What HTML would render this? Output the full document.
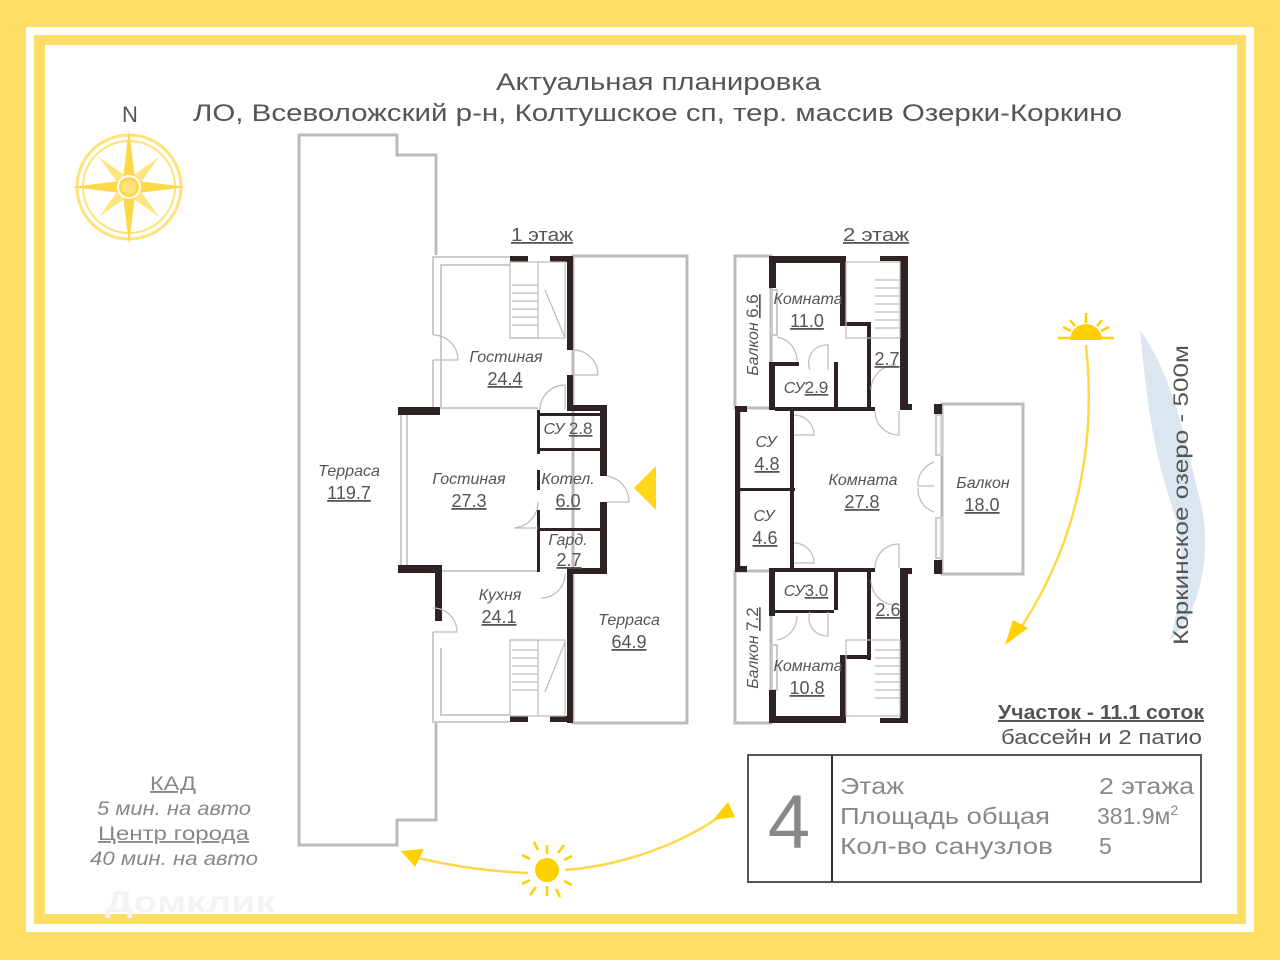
<!DOCTYPE html>
<html><head><meta charset="utf-8"><style>
html,body{margin:0;padding:0;width:1280px;height:960px;overflow:hidden;background:#FFDE66}
svg{display:block}
text{font-family:"Liberation Sans",sans-serif}
.it{font-style:italic;font-size:16px}
.num{font-size:18px;text-decoration:underline}
</style></head><body>
<svg width="1280" height="960" viewBox="0 0 1280 960" xmlns="http://www.w3.org/2000/svg" fill="#555">
<rect x="0" y="0" width="1280" height="960" fill="#FFDE66"/>
<rect x="30" y="31" width="1220" height="897" fill="none" stroke="#fff" stroke-width="8"/>
<rect x="45" y="45" width="1192" height="869" fill="#fff"/>

<text x="496" y="90" font-size="24" fill="#555" textLength="325" lengthAdjust="spacingAndGlyphs">Актуальная планировка</text>
<text x="193" y="121" font-size="24" fill="#555" textLength="929" lengthAdjust="spacingAndGlyphs">ЛО, Всеволожский р-н, Колтушское сп, тер. массив Озерки-Коркино</text>
<text x="130" y="122" font-size="22" text-anchor="middle" fill="#555">N</text>

<g transform="translate(129,187)">
<circle r="52" fill="none" stroke="#FFE27A" stroke-width="3"/>
<circle r="46" fill="none" stroke="#FFE27A" stroke-width="2"/>
<g fill="#FFD84A">
<polygon points="0,-58 7,0 0,58 -7,0"/>
<polygon points="-58,0 0,-7 58,0 0,7"/>
<polygon points="-30,-30 5,-5 30,30 -5,5" opacity="0.7"/>
<polygon points="30,-30 5,5 -30,30 -5,-5" opacity="0.7"/>
</g>
<circle r="11" fill="#FFD84A" stroke="#fff" stroke-width="2"/>
<circle r="7" fill="#FFE27A"/>
</g>

<text x="542" y="241" font-size="18" text-anchor="middle" text-decoration="underline" textLength="62" lengthAdjust="spacingAndGlyphs">1 этаж</text>
<text x="876" y="241" font-size="18" text-anchor="middle" text-decoration="underline" textLength="66" lengthAdjust="spacingAndGlyphs">2 этаж</text>

<g fill="none" stroke="#bbb" stroke-width="3">
<polyline points="436,255 436,155 397,155 397,135 299,135 299,845 397,845 397,820 436,820 436,722"/>
<rect x="573" y="256" width="114" height="467"/>
</g>
<g fill="none" stroke="#ccc" stroke-width="2">
<polyline points="510,257 433,257 433,335"/>
<polyline points="441,408 441,265 510,265"/>
<line x1="433" y1="360" x2="433" y2="408"/>
<rect x="401" y="412" width="6" height="155"/>
<polyline points="433,632 433,722 510,722"/>
<polyline points="441,572 441,620"/>
<polyline points="441,648 441,715 510,715"/>
<line x1="440" y1="408" x2="538" y2="408"/>
<line x1="440" y1="571" x2="538" y2="571"/>
</g>
<g fill="#2e2222">
<rect x="510" y="256" width="18" height="6"/>
<rect x="550" y="256" width="22" height="6"/>
<rect x="567" y="256" width="6" height="94"/>
<rect x="567" y="375" width="6" height="33"/>
<rect x="567" y="405" width="40" height="6"/>
<rect x="600" y="405" width="7" height="71"/>
<rect x="600" y="502" width="7" height="72"/>
<rect x="567" y="568" width="40" height="6"/>
<rect x="567" y="568" width="6" height="155"/>
<rect x="550" y="716" width="22" height="6"/>
<rect x="510" y="716" width="18" height="6"/>
<rect x="398" y="407" width="42" height="8"/>
<rect x="398" y="565" width="42" height="8"/>
<rect x="435" y="565" width="7" height="56"/>
<rect x="538" y="413" width="62" height="3"/>
<rect x="538" y="448" width="62" height="3"/>
<rect x="538" y="528" width="62" height="3"/>
<rect x="537" y="410" width="3" height="44"/>
<rect x="537" y="470" width="3" height="20"/>
<rect x="537" y="510" width="3" height="62"/>
</g>
<g fill="none" stroke="#bbb" stroke-width="1.2">
<rect x="510" y="262" width="55" height="76"/>
<polyline points="510,338 538,338 538,262"/>
<path d="M512,285h26M512,293h26M512,301h26M512,309h26M512,317h26M512,325h26"/>
<polyline points="545,290 565,338"/>
<rect x="510" y="640" width="55" height="76"/>
<polyline points="510,640 538,640 538,716"/>
<path d="M512,650h26M512,658h26M512,666h26M512,674h26M512,682h26M512,690h26"/>
<polyline points="565,642 545,692"/>
<path d="M433,335 a25,25 0 0 1 25,25 h-25" />
<path d="M573,350 a25,25 0 0 1 25,25 h-25" />
<path d="M540,410 a25,25 0 0 1 25,-25 v25" />
<path d="M607,476 a26,26 0 0 1 22,26 h-22" />
<path d="M538,502 a26,26 0 0 1 -24,26 h24"/>
<path d="M565,574 a24,24 0 0 1 -24,24" />
<path d="M433,608 a24,24 0 0 1 24,24 h-24" />
</g>
<polygon points="656,466 656,510 634,488" fill="#FFD000" opacity="0.9"/>
<text x="506" y="362" class="it" text-anchor="middle">Гостиная</text>
<text x="505" y="385" class="num" text-anchor="middle">24.4</text>
<text x="469" y="484" class="it" text-anchor="middle">Гостиная</text>
<text x="469" y="507" class="num" text-anchor="middle">27.3</text>
<text x="568" y="434" font-size="16" text-anchor="middle"><tspan font-style="italic">СУ</tspan> <tspan text-decoration="underline" font-size="17">2.8</tspan></text>
<text x="568" y="484" class="it" text-anchor="middle">Котел.</text>
<text x="568" y="507" class="num" text-anchor="middle">6.0</text>
<text x="568" y="545" class="it" text-anchor="middle">Гард.</text>
<text x="569" y="566" class="num" text-anchor="middle">2.7</text>
<text x="500" y="600" class="it" text-anchor="middle">Кухня</text>
<text x="499" y="623" class="num" text-anchor="middle">24.1</text>
<text x="629" y="625" class="it" text-anchor="middle">Терраса</text>
<text x="629" y="648" class="num" text-anchor="middle">64.9</text>
<text x="349" y="476" class="it" text-anchor="middle">Терраса</text>
<text x="349" y="499" class="num" text-anchor="middle">119.7</text>

<g fill="none" stroke="#bbb" stroke-width="3">
<rect x="735" y="256" width="36" height="152"/>
<rect x="735" y="571" width="36" height="152"/>
<rect x="942" y="404" width="81" height="170"/>
</g>
<g fill="none" stroke="#ccc" stroke-width="2">
<rect x="772" y="290" width="5" height="45"/>
<rect x="772" y="645" width="5" height="45"/>
<rect x="936" y="415" width="6" height="40"/>
<rect x="936" y="518" width="6" height="40"/>
<line x1="740" y1="410" x2="740" y2="570"/>
</g>
<g fill="#2e2222">
<rect x="769" y="256" width="77" height="7"/>
<rect x="769" y="256" width="7" height="32"/>
<rect x="900" y="256" width="8" height="150"/>
<rect x="880" y="256" width="28" height="5"/>
<rect x="840" y="256" width="6" height="70"/>
<rect x="840" y="322" width="30" height="4"/>
<rect x="867" y="322" width="4" height="88"/>
<rect x="769" y="362" width="6" height="48"/>
<rect x="769" y="362" width="30" height="4"/>
<rect x="834" y="362" width="4" height="45"/>
<rect x="735" y="406" width="12" height="6"/>
<rect x="735" y="406" width="5" height="165"/>
<rect x="735" y="566" width="12" height="6"/>
<rect x="740" y="488" width="55" height="3"/>
<rect x="790" y="410" width="4" height="160"/>
<rect x="775" y="407" width="100" height="4"/>
<rect x="900" y="404" width="12" height="6"/>
<rect x="934" y="404" width="8" height="10"/>
<rect x="934" y="560" width="8" height="14"/>
<rect x="775" y="568" width="100" height="4"/>
<rect x="900" y="568" width="12" height="6"/>
<rect x="900" y="568" width="8" height="155"/>
<rect x="769" y="568" width="6" height="48"/>
<rect x="769" y="610" width="65" height="3"/>
<rect x="834" y="570" width="4" height="40"/>
<rect x="867" y="570" width="4" height="90"/>
<rect x="840" y="655" width="30" height="4"/>
<rect x="840" y="655" width="6" height="68"/>
<rect x="769" y="690" width="7" height="33"/>
<rect x="769" y="716" width="77" height="7"/>
<rect x="880" y="718" width="28" height="5"/>
</g>
<g fill="none" stroke="#bbb" stroke-width="1.2">
<rect x="846" y="262" width="54" height="76"/>
<path d="M875,280h25M875,288h25M875,296h25M875,304h25M875,312h25M875,320h25M875,328h25"/>
<rect x="846" y="640" width="54" height="76"/>
<path d="M875,650h25M875,658h25M875,666h25M875,674h25M875,682h25M875,690h25M875,698h25"/>
<path d="M777,337 a24,24 0 0 1 20,24"/>
<path d="M810,370 a18,18 0 0 1 18,-25 v25"/>
<path d="M871,390 a25,25 0 0 1 25,-25"/>
<path d="M875,411 a24,24 0 0 0 24,24 v-24"/>
<path d="M794,415 a20,20 0 0 1 20,20 h-20"/>
<path d="M794,543 a20,20 0 0 1 20,20 h-20"/>
<path d="M875,568 a24,24 0 0 1 24,-24 v24"/>
<path d="M934,462 a24,24 0 0 0 -16,24 h16"/>
<path d="M934,512 a24,24 0 0 1 -16,-24"/>
<path d="M871,580 a25,25 0 0 0 25,25"/>
<path d="M810,612 a18,18 0 0 0 18,24 v-24"/>
<path d="M777,640 a24,24 0 0 0 20,-24"/>
</g>
<text x="808" y="304" class="it" text-anchor="middle">Комната</text>
<text x="807" y="327" class="num" text-anchor="middle">11.0</text>
<text x="806" y="393" font-size="16" text-anchor="middle"><tspan font-style="italic">СУ</tspan><tspan text-decoration="underline" font-size="17">2.9</tspan></text>
<text x="887" y="365" class="num" text-anchor="middle">2.7</text>
<text x="766" y="447" class="it" text-anchor="middle">СУ</text>
<text x="767" y="470" class="num" text-anchor="middle">4.8</text>
<text x="764" y="521" class="it" text-anchor="middle">СУ</text>
<text x="765" y="544" class="num" text-anchor="middle">4.6</text>
<text x="863" y="485" class="it" text-anchor="middle">Комната</text>
<text x="862" y="508" class="num" text-anchor="middle">27.8</text>
<text x="983" y="488" class="it" text-anchor="middle">Балкон</text>
<text x="982" y="511" class="num" text-anchor="middle">18.0</text>
<text x="806" y="596" font-size="16" text-anchor="middle"><tspan font-style="italic">СУ</tspan><tspan text-decoration="underline" font-size="17">3.0</tspan></text>
<text x="888" y="616" class="num" text-anchor="middle">2.6</text>
<text x="808" y="671" class="it" text-anchor="middle">Комната</text>
<text x="807" y="694" class="num" text-anchor="middle">10.8</text>
<text transform="translate(758,335) rotate(-90)" font-size="16" text-anchor="middle"><tspan font-style="italic">Балкон</tspan> <tspan text-decoration="underline" font-size="17">6.6</tspan></text>
<text transform="translate(758,648) rotate(-90)" font-size="16" text-anchor="middle"><tspan font-style="italic">Балкон</tspan> <tspan text-decoration="underline" font-size="17">7.2</tspan></text>

<path d="M1140,330 C1175,380 1185,440 1200,500 C1215,560 1195,620 1170,640 C1180,600 1190,560 1170,500 C1150,440 1145,380 1140,330 Z" fill="#DCE6F0"/>
<text transform="translate(1188,495) rotate(-90)" font-size="21" text-anchor="middle" fill="#555" textLength="300" lengthAdjust="spacingAndGlyphs">Коркинское озеро - 500м</text>

<g stroke="#FFD84A" stroke-width="2.5" fill="none">
<path d="M1086,345 C1096,440 1080,540 1018,632"/>
<path d="M418,858 C460,868 500,872 528,873"/>
<path d="M565,870 C620,866 680,845 722,815"/>
</g>
<polygon points="1005,645 1028,628 1013,620" fill="#FFD000"/>
<polygon points="401,851 424,849 415,867" fill="#FFD000"/>
<polygon points="735,817 713,820 728,802" fill="#FFD000"/>
<circle cx="547" cy="870" r="12" fill="#FFD000"/>
<g stroke="#FFD000" stroke-width="2.5">
<path d="M547,845v9M547,886v10M530,859l-8,-4M564,881l8,4M558,853l6,-8M536,887l-6,8M564,860l8,-4M530,880l-8,4M538,850l-4,-8M556,889l4,8"/>
</g>
<path d="M1070,340 a16,16 0 0 1 32,0 z" fill="#FFD000"/>
<g stroke="#FFD000" stroke-width="2.5">
<path d="M1058,338h12M1102,338h12M1086,313v10M1070,320l5,6M1102,320l-5,6M1063,327l8,4M1109,327l-8,4"/>
</g>

<text x="150" y="790" font-size="19" fill="#888" text-decoration="underline" textLength="46" lengthAdjust="spacingAndGlyphs">КАД</text>
<text x="97" y="815" font-size="19" fill="#888" font-style="italic" textLength="154" lengthAdjust="spacingAndGlyphs">5 мин. на авто</text>
<text x="98" y="840" font-size="19" fill="#888" text-decoration="underline" textLength="151" lengthAdjust="spacingAndGlyphs">Центр города</text>
<text x="90" y="865" font-size="19" fill="#888" font-style="italic" textLength="168" lengthAdjust="spacingAndGlyphs">40 мин. на авто</text>
<text x="105" y="912" font-size="30" font-weight="bold" fill="#f3f3f3" textLength="170" lengthAdjust="spacingAndGlyphs">Домклик</text>

<text x="998" y="719" font-size="20" font-weight="bold" fill="#555" text-decoration="underline" textLength="206" lengthAdjust="spacingAndGlyphs">Участок - 11.1 соток</text>
<text x="1001" y="744" font-size="20" fill="#555" textLength="201" lengthAdjust="spacingAndGlyphs">бассейн и 2 патио</text>
<rect x="748" y="755" width="453" height="127" fill="none" stroke="#555" stroke-width="2"/>
<line x1="832" y1="755" x2="832" y2="882" stroke="#333" stroke-width="2"/>
<text x="789" y="848" font-size="76" text-anchor="middle" fill="#888">4</text>
<g font-size="23" fill="#888">
<text x="840" y="794" textLength="64" lengthAdjust="spacingAndGlyphs">Этаж</text>
<text x="840" y="824" textLength="210" lengthAdjust="spacingAndGlyphs">Площадь общая</text>
<text x="840" y="854" textLength="213" lengthAdjust="spacingAndGlyphs">Кол-во санузлов</text>
<text x="1099" y="794" textLength="95" lengthAdjust="spacingAndGlyphs">2 этажа</text>
<text x="1097" y="824">381.9м<tspan font-size="14" dy="-9">2</tspan></text>
<text x="1099" y="854">5</text>
</g>
</svg>
</body></html>
